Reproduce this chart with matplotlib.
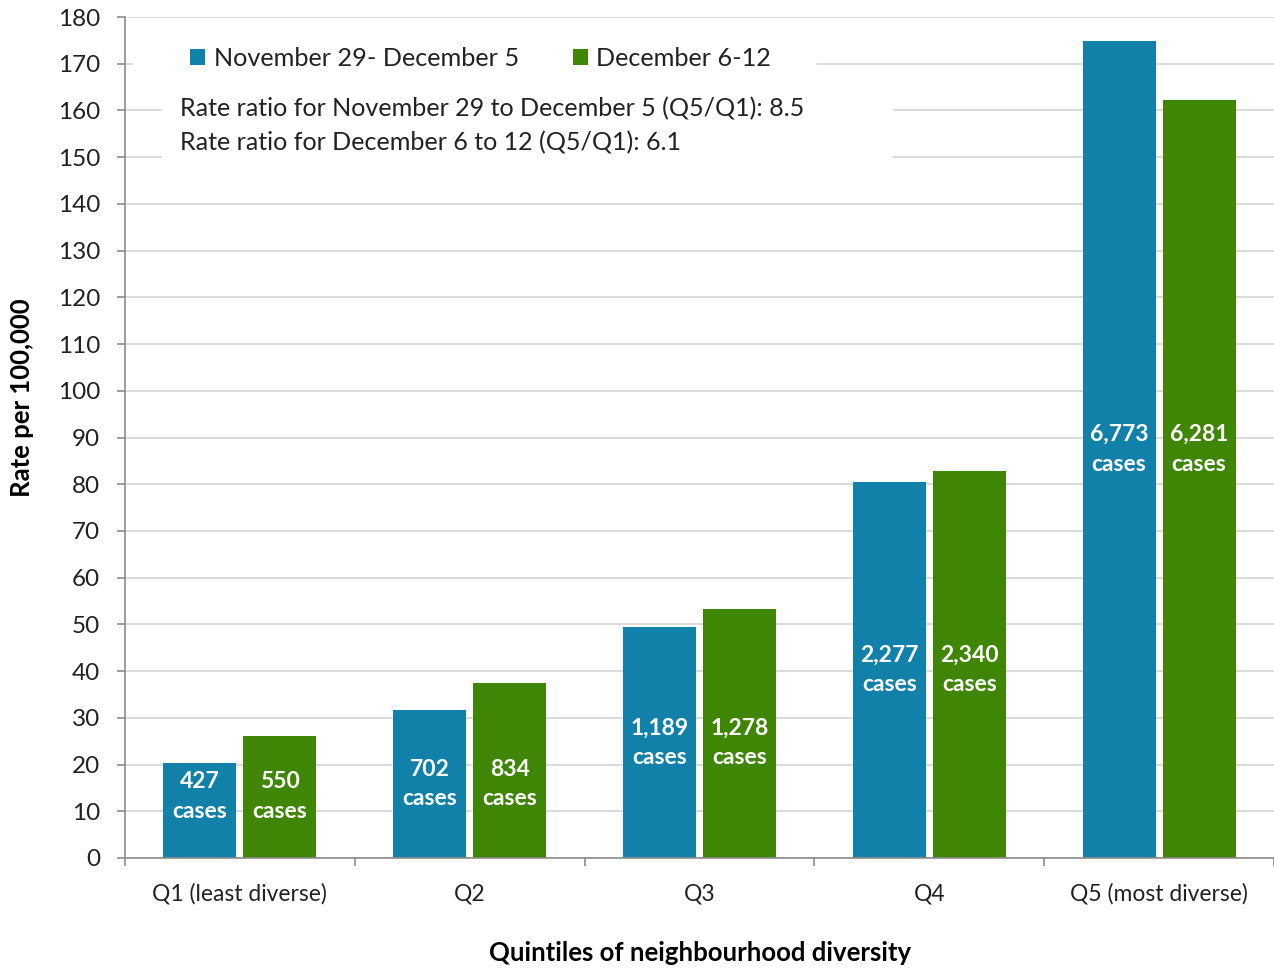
import matplotlib
matplotlib.use("Agg")
import matplotlib.pyplot as plt
import numpy as np
from matplotlib.patches import Rectangle

plt.rcParams["font.family"] = ["Lato", "DejaVu Sans"]

# rate per 100,000 by quintile of neighbourhood diversity
categories = ["Q1 (least diverse)", "Q2", "Q3", "Q4", "Q5 (most diverse)"]
series_names = ["November 29- December 5", "December 6-12"]
rate_nov = [20.3, 31.7, 49.4, 80.5, 174.9]
rate_dec = [26.1, 37.5, 53.3, 82.8, 162.2]
cases_nov = [427, 702, 1189, 2277, 6773]
cases_dec = [550, 834, 1278, 2340, 6281]
ratio_text = [
    "Rate ratio for November 29 to December 5 (Q5/Q1): 8.5",
    "Rate ratio for December 6 to 12 (Q5/Q1): 6.1",
]

blue = "#1281a9"
green = "#3f8605"
axis_grey = "#8c8c8c"
grid_grey = "#d4d4d4"
ink = "#222222"

fig = plt.figure(figsize=(12.74, 9.68), dpi=100)
ax = fig.add_axes([125 / 1274, 1 - 858 / 968, 1149 / 1274, (858 - 17) / 968])

x = np.arange(len(categories))
w = 0.317
off = 0.174
ax.bar(x - off, rate_nov, w, color=blue, label=series_names[0], zorder=2)
ax.bar(x + off, rate_dec, w, color=green, label=series_names[1], zorder=2)

# case counts, placed around the middle of the first bar in each group
for i in range(len(categories)):
    ly = max(rate_nov[i] / 2, 13.2)
    for dx, n in ((-off, cases_nov[i]), (off, cases_dec[i])):
        ax.text(x[i] + dx, ly, f"{n:,}\ncases", ha="center", va="center",
                color="white", fontsize=16.5, fontweight="bold",
                linespacing=1.5, zorder=3)

ax.set_xlim(-0.5, len(categories) - 0.5)
ax.set_ylim(0, 180)
ax.set_yticks(np.arange(0, 181, 10))
ax.yaxis.grid(True, color=grid_grey, linewidth=1.2)
ax.set_axisbelow(True)

ax.set_xticks(x)
ax.set_xticklabels(categories)
ax.set_xticks(np.arange(-0.5, len(categories)), minor=True)
ax.tick_params(axis="x", which="major", length=0, pad=18, labelsize=16.5,
               labelcolor=ink)
ax.tick_params(axis="x", which="minor", length=6, width=1.2, color=axis_grey)
ax.tick_params(axis="y", length=6, width=1.2, color=axis_grey, pad=12,
               labelsize=17.5, labelcolor=ink)

for s in ("top", "right"):
    ax.spines[s].set_visible(False)
for s in ("left", "bottom"):
    ax.spines[s].set_color(axis_grey)
    ax.spines[s].set_linewidth(1.2)

fig.text(22 / 1274, 1 - 398 / 968, "Rate per 100,000", rotation=90,
         ha="center", va="center", fontsize=18.5, fontweight="bold", color="black")
fig.text(700 / 1274, 1 - 953 / 968, "Quintiles of neighbourhood diversity",
         ha="center", va="center", fontsize=18.5, fontweight="bold", color="black")

# white panels behind the legend and the ratio note hide the grid there
ax.add_patch(Rectangle((0.007, 166.5), 0.595, 11, transform=ax.get_yaxis_transform(),
                       facecolor="white", edgecolor="none", zorder=1))
ax.add_patch(Rectangle((0.032, 146), 0.636, 20, transform=ax.get_yaxis_transform(),
                       facecolor="white", edgecolor="none", zorder=1))

leg = ax.legend(loc="center left", bbox_to_anchor=(0.048, 171.2),
                bbox_transform=ax.get_yaxis_transform(), ncol=2, frameon=False,
                fontsize=18.2, handlelength=0.6, handleheight=0.6,
                handletextpad=0.32, columnspacing=2.15, borderaxespad=0)
for t in leg.get_texts():
    t.set_color(ink)

ax.text(0.048, 160.3, ratio_text[0], transform=ax.get_yaxis_transform(),
        ha="left", va="center", fontsize=18.1, color=ink, zorder=3)
ax.text(0.048, 153.2, ratio_text[1], transform=ax.get_yaxis_transform(),
        ha="left", va="center", fontsize=18.1, color=ink, zorder=3)

fig.savefig("out.png", dpi=100)
